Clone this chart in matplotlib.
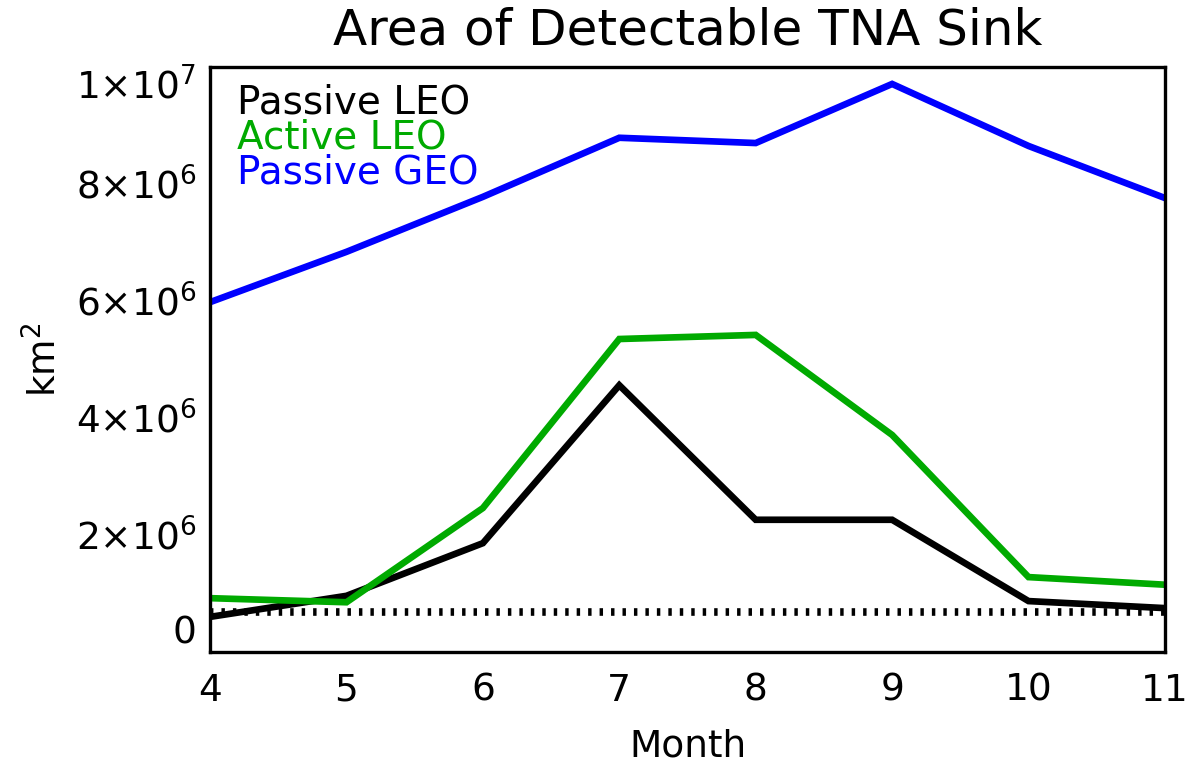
import numpy as np
import matplotlib
matplotlib.use("Agg")
import matplotlib.pyplot as plt

# monthly values (km^2)
month = [4, 5, 6, 7, 8, 9, 10, 11]
passive_leo = [0.60e6, 0.96e6, 1.86e6, 4.56e6, 2.26e6, 2.26e6, 0.87e6, 0.75e6]
active_leo = [0.92e6, 0.85e6, 2.46e6, 5.35e6, 5.42e6, 3.71e6, 1.28e6, 1.15e6]
passive_geo = [5.98e6, 6.84e6, 7.78e6, 8.79e6, 8.70e6, 9.71e6, 8.65e6, 7.76e6]
threshold = 0.69e6

series_names = ["Passive LEO", "Active LEO", "Passive GEO"]
series_colors = ["black", "#00AA00", "#0000FF"]

yticks = [0, 2e6, 4e6, 6e6, 8e6, 1e7]
ytick_labels = ["0", r"$2{\times}10^{6}$", r"$4{\times}10^{6}$",
                r"$6{\times}10^{6}$", r"$8{\times}10^{6}$", r"$1{\times}10^{7}$"]

plt.rcParams['font.family'] = ['DejaVu Sans']
plt.rcParams['mathtext.fontset'] = 'dejavusans'

fig = plt.figure(figsize=(11.88, 7.63), dpi=100)
ax = fig.add_axes([0.1768, 0.1455, 0.9806 - 0.1768, 0.9122 - 0.1455])

ax.plot(month, passive_leo, color=series_colors[0], lw=4.8, solid_joinstyle='miter')
ax.plot(month, active_leo, color=series_colors[1], lw=4.8, solid_joinstyle='miter')
ax.plot(month, passive_geo, color=series_colors[2], lw=4.8, solid_joinstyle='miter')
ax.plot([month[0], month[-1]], [threshold, threshold], color='black', lw=5.5,
        linestyle=(0, (0.45, 1.05)))

ax.set_xlim(4, 11)
ax.set_ylim(0, 1e7)
ax.set_xticks(month)
ax.set_xticklabels([str(m) for m in month])
ax.set_yticks(yticks)
ax.set_yticklabels(ytick_labels)
ax.tick_params(axis='x', length=0, pad=15, labelsize=27)
ax.tick_params(axis='y', length=0, pad=10, labelsize=27)
lbls = ax.get_yticklabels()
lbls[0].set_va('bottom')
lbls[-1].set_va('top')

for sp in ax.spines.values():
    sp.set_linewidth(2.4)

ax.set_title("Area of Detectable TNA Sink", fontsize=36, pad=16)
ax.set_xlabel("Month", fontsize=27, labelpad=14)
ax.set_ylabel("km$^2$", fontsize=27, labelpad=8)

for i, (name, c) in enumerate(zip(series_names, series_colors)):
    ax.text(0.028, 0.94 - i * 0.06, name, color=c, fontsize=28,
            transform=ax.transAxes, va='center', ha='left')

fig.savefig("out.png", dpi=100)
